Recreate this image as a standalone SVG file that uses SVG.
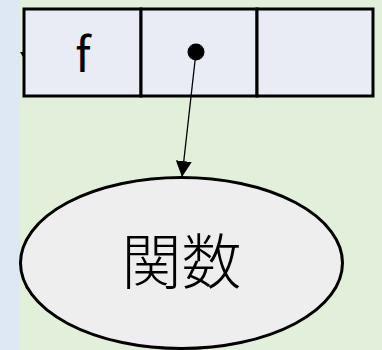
<svg xmlns="http://www.w3.org/2000/svg" width="382" height="350" viewBox="0 0 382 350">
<style>
.cell{fill:#e9ebf5;stroke:#000;stroke-width:3}
.lbl{font-family:"Noto Sans CJK JP","Noto Sans","Liberation Sans",sans-serif;fill:#000;text-anchor:middle}
</style>
<defs>
<marker id="ah" markerWidth="16" markerHeight="16" refX="16" refY="8" orient="auto" markerUnits="userSpaceOnUse">
<path d="M0,0 L16,8 L0,16 Z" fill="#000"/>
</marker>
</defs>
<rect x="0" y="0" width="382" height="350" fill="#e2efda"/>
<rect x="0" y="0" width="20" height="350" fill="#dde8f4"/>
<path d="M20,52 L23,52 L23,57 Z" fill="#000"/>
<g id="record">
<rect class="cell" x="24" y="9" width="117" height="87"/>
<rect class="cell" x="141" y="9" width="116" height="87"/>
<rect class="cell" x="257" y="9" width="116" height="87"/>
<text class="lbl" x="83" y="72" font-size="47">f</text>
<circle cx="196" cy="52" r="8.5" fill="#000"/>
</g>
<g id="func">
<ellipse cx="181.5" cy="263" rx="161" ry="85.5" fill="#eeeeee" stroke="#000" stroke-width="3"/>
<text class="lbl" x="181.5" y="284" font-size="60" font-weight="300">関数</text>
</g>
<g id="connectors">
<line x1="196" y1="52" x2="182" y2="177" stroke="#000" stroke-width="1.3" marker-end="url(#ah)"/>
</g>
</svg>
